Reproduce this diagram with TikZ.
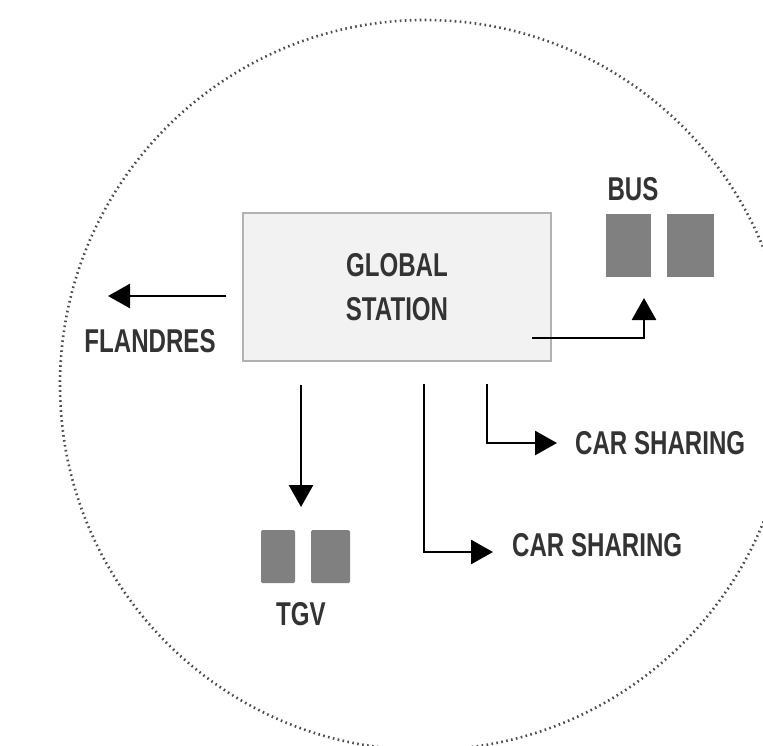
\documentclass[tikz,border=0pt]{standalone}
\usepackage{fontspec}
\setmainfont{Liberation Sans}[FakeStretch=0.73]
\usetikzlibrary{arrows.meta}
\tikzset{
  lbl/.style={font=\fontsize{33}{44}\selectfont\bfseries, text=black!80, inner sep=0pt},
  arr/.style={line width=2.7pt, -{Triangle[length=22pt,width=24pt]}},
  block/.style={fill=black!50, inner sep=0pt, minimum height=63pt},
  smallblock/.style={fill=black!50, inner sep=0pt, minimum height=53pt, rounded corners=1.5pt},
}
\begin{document}
\begin{tikzpicture}[x=1pt,y=-1pt]
\clip (0,0) rectangle (763,745);
\fill[white] (0,0) rectangle (763,745);
\draw[black!70, line width=2.6pt, dash pattern=on 1.6pt off 3.4pt] (425,385) circle (365);

\node[lbl, draw=black!30, line width=1.5pt, fill=black!5, minimum width=308pt,
  minimum height=148pt, align=center] (station) at (397,287) {GLOBAL\\STATION};

% bus
\node[lbl] (bus) at (633,189.5) {BUS};
\node[block, minimum width=45pt] (bus1) at (628.5,245.5) {};
\node[block, minimum width=47pt] (bus2) at (690.5,245.5) {};

% tgv
\node[smallblock, minimum width=34pt] (tgv1) at (278,556.5) {};
\node[smallblock, minimum width=39pt] (tgv2) at (330.5,556.5) {};
\node[lbl] (tgv) at (301,614) {TGV};

\node[lbl] (flandres) at (150,341.5) {FLANDRES};
\node[lbl, anchor=west] (carA) at (575,443) {CAR SHARING};
\node[lbl, anchor=west] (carB) at (512,545) {CAR SHARING};

\coordinate (flandresTip) at (108,296);
\coordinate (busStart) at (532,338);
\coordinate (busTip) at (644,298);
\coordinate (tgvTip) at (301,507);
\coordinate (carATip) at (557,443);
\coordinate (carBTip) at (493,552);

\draw[arr, shorten <=16pt] (station.west |- flandresTip) -- (flandresTip);
\draw[arr] (busStart) -| (busTip);
\draw[arr, shorten <=23pt] (station.south -| tgv) -- (tgvTip);
\draw[arr, shorten <=22pt] (station.south -| 487,0) |- (carATip);
\draw[arr, shorten <=22pt] (station.south -| 424,0) |- (carBTip);
\end{tikzpicture}
\end{document}
